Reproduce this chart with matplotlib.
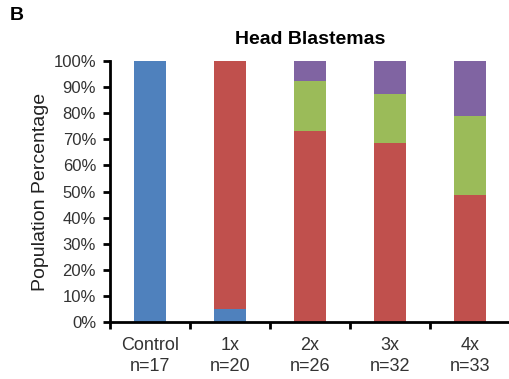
import matplotlib
matplotlib.use("Agg")
from matplotlib import pyplot as plt
from matplotlib.ticker import PercentFormatter, FixedLocator

# stacked percentages
categories = ["Control\nn=17", "1x\nn=20", "2x\nn=26", "3x\nn=32", "4x\nn=33"]
blue = [100.0, 5.0, 0.0, 0.0, 0.0]
red = [0.0, 95.0, 73.1, 68.75, 48.5]
green = [0.0, 0.0, 19.2, 18.75, 30.3]
purple = [0.0, 0.0, 7.7, 12.5, 21.2]

colors = ["#4F81BD", "#C0504D", "#9BBB59", "#8064A2"]

plt.rcParams['font.family'] = ['Liberation Sans', 'DejaVu Sans']

fig = plt.figure(figsize=(5.10, 3.79), dpi=100)
ax = fig.add_axes([110 / 510, 57 / 379, 400 / 510, 261 / 379])

x = list(range(len(categories)))
bottom = [0.0] * len(categories)
for vals, c in zip([blue, red, green, purple], colors):
	ax.bar(x, vals, width=0.4, bottom=bottom, color=c, edgecolor="none")
	bottom = [b + v for b, v in zip(bottom, vals)]

ax.set_xlim(-0.5, 4.5)
ax.set_ylim(0, 100)
ax.set_yticks(range(0, 101, 10))
ax.yaxis.set_major_formatter(PercentFormatter(decimals=0))
ax.set_xticks(x)
ax.set_xticklabels(categories, fontsize=13, linespacing=1.3, color="#333333")
ax.xaxis.set_minor_locator(FixedLocator([-0.5, 0.5, 1.5, 2.5, 3.5]))
ax.tick_params(axis="x", which="major", length=0, pad=11)
ax.tick_params(axis="x", which="minor", length=5, width=2, direction="out")
ax.tick_params(axis="y", length=5, width=2, direction="out", labelsize=12, labelcolor="#333333", pad=5)

for s in ["top", "right"]:
	ax.spines[s].set_visible(False)
for s in ["left", "bottom"]:
	ax.spines[s].set_linewidth(2)

ax.set_ylabel("Population Percentage", fontsize=14, labelpad=3, color="#222222")
ax.set_title("Head Blastemas", fontsize=14, fontweight="bold", pad=12)
fig.text(10 / 510, 1 - 16 / 379, "B", fontsize=14, fontweight="bold", va="center", ha="left")

fig.savefig("out.png", dpi=100)
